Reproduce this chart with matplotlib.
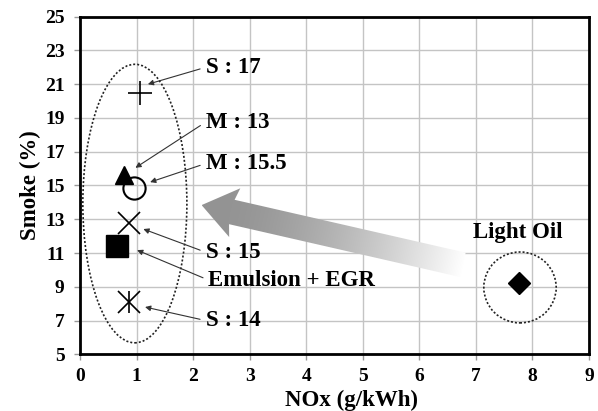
import numpy as np
import matplotlib
matplotlib.use("Agg")
import matplotlib.pyplot as plt
from matplotlib.patches import Ellipse, Polygon

plt.rcParams["font.family"] = ["Liberation Serif", "DejaVu Serif"]
plt.rcParams["font.weight"] = "bold"

# ---------------- data ----------------
labels = ["S : 17", "M : 13", "M : 15.5", "S : 15", "Emulsion + EGR", "S : 14", "Light Oil"]
nox = [1.06, 0.77, 0.96, 0.86, 0.66, 0.86, 7.77]
smoke = [20.5, 15.6, 14.85, 12.8, 11.4, 8.1, 9.2]
markers = ["+", "^", "o", "x", "s", "asterisk", "D"]

x_ticks = [0, 1, 2, 3, 4, 5, 6, 7, 8, 9]
y_ticks = [5, 7, 9, 11, 13, 15, 17, 19, 21, 23, 25]

# label text positions (data coords) and arrow targets
label_text_xy = [(2.22, 22.0), (2.22, 18.75), (2.22, 16.3), (2.22, 11.05), (2.27, 9.4), (2.22, 7.0), (7.75, 12.2)]
label_arrow_xy = [(1.2, 21.0), (0.98, 16.05), (1.24, 15.2), (1.12, 12.42), (1.01, 11.17), (1.15, 7.8), None]

# group ellipses (center x, center y, width, height)
group_ellipses = [(0.97, 13.93, 1.84, 16.5), (7.78, 8.96, 1.28, 4.2)]

# big gradient arrow: tail -> tip
arrow_tail = (6.77, 10.3)
arrow_tip = (2.15, 13.84)

# ---------------- figure ----------------
W, H, DPI = 598, 411, 100
fig = plt.figure(figsize=(W / DPI, H / DPI), dpi=DPI)
L, R, T, B = 80, 589, 16.7, 354.3
ax = fig.add_axes([L / W, (H - B) / H, (R - L) / W, (B - T) / H])

ax.set_xlim(0, 9)
ax.set_ylim(5, 25)
ax.set_xticks(x_ticks)
ax.set_yticks(y_ticks)
ax.set_xticklabels([str(v) for v in x_ticks], fontweight="bold")
ax.set_yticklabels([str(v) for v in y_ticks], fontweight="bold")
ax.grid(True, color="#c4c4c4", lw=1.0, zorder=0)
ax.set_axisbelow(True)
for s in ax.spines.values():
    s.set_linewidth(2.0)
    s.set_color("black")
ax.tick_params(axis="both", direction="out", length=4, width=1, color="#999999",
               labelsize=14)
ax.tick_params(axis="y", pad=7)
ax.tick_params(axis="x", pad=6)
ax.set_xlabel("NOx (g/kWh)", fontweight="bold", fontsize=16.5)
ax.xaxis.set_label_coords(0.533, -0.105)
ax.set_ylabel("Smoke (%)", fontweight="bold", fontsize=16.5, labelpad=3)

# pixel scales for shape construction
sx = (R - L) / 9.0
sy = (B - T) / 20.0

# ---- gradient arrow ----
tx, ty = arrow_tail[0] * sx, arrow_tail[1] * sy
hx, hy = arrow_tip[0] * sx, arrow_tip[1] * sy
d = np.array([hx - tx, hy - ty])
length = np.hypot(*d)
u = d / length
n = np.array([-u[1], u[0]])
shaft_w, head_w, head_len = 25.0, 50.0, 31.0
tail = np.array([tx, ty])
tip = np.array([hx, hy])
neck = tip - u * head_len
back = tip - u * (head_len + 3)
pts = [tail + n * shaft_w / 2, neck + n * shaft_w / 2, back + n * head_w / 2, tip,
       back - n * head_w / 2, neck - n * shaft_w / 2, tail - n * shaft_w / 2]
pts = np.array([[p[0] / sx, p[1] / sy] for p in pts])
poly = Polygon(pts, closed=True, facecolor="none", edgecolor="none", zorder=2)
ax.add_patch(poly)
x0, x1 = pts[:, 0].min(), pts[:, 0].max()
y0, y1 = pts[:, 1].min(), pts[:, 1].max()
gx, gy = np.meshgrid(np.linspace(x0, x1, 400), np.linspace(y0, y1, 200))
t = 1.0 - ((gx * sx - tx) * u[0] + (gy * sy - ty) * u[1]) / length  # 0 at tip, 1 at tail
t = np.clip((t - 0.1) / 0.9, 0, 1)
gray = 0.58 + 0.42 * t ** 1.5
img = np.dstack([gray, gray, gray])
im = ax.imshow(img, extent=(x0, x1, y0, y1), origin="lower", aspect="auto",
               interpolation="bilinear", zorder=2)
im.set_clip_path(poly)
ax.set_xlim(0, 9)
ax.set_ylim(5, 25)

# ---- dotted ellipses ----
for cx, cy, ew, eh in group_ellipses:
    ax.add_patch(Ellipse((cx, cy), ew, eh, fill=False, edgecolor="#222222", lw=1.2,
                         linestyle=(0, (1.2, 1.2)), zorder=3))

# ---- markers ----
ms_map = {"+": 17, "^": 12.5, "o": 16, "x": 16, "s": 15.5, "asterisk": 16, "D": 11.5}
for x, y, m in zip(nox, smoke, markers):
    if m == "asterisk":
        ax.plot(x, y, marker="x", ms=ms_map[m], mec="black", mew=1.2, ls="none", zorder=5)
        ax.plot(x, y, marker="|", ms=ms_map[m], mec="black", mew=1.2, ls="none", zorder=5)
    elif m in ("+", "x"):
        ax.plot(x, y, marker=m, ms=ms_map[m], mec="black", mew=1.2, ls="none", zorder=5)
    elif m == "o":
        ax.plot(x, y, marker=m, ms=ms_map[m], mec="black", mfc="none", mew=1.5, ls="none", zorder=5)
    else:
        ax.plot(x, y, marker=m, ms=ms_map[m], mec="black", mfc="black", ls="none", zorder=5)

# ---- labels ----
for lab, txy, axy in zip(labels, label_text_xy, label_arrow_xy):
    if axy is None:
        ax.text(txy[0], txy[1], lab, ha="center", va="center",
                fontweight="bold", fontsize=16.5, zorder=6)
    else:
        ax.annotate(lab, xy=axy, xytext=txy, ha="left", va="center",
                    fontweight="bold", fontsize=16.5, zorder=6,
                    arrowprops=dict(arrowstyle="-|>", color="#333333", lw=0.8,
                                    mutation_scale=8, shrinkA=2, shrinkB=0,
                                    relpos=(0, 0.5)))

fig.savefig("out.png", dpi=DPI)
